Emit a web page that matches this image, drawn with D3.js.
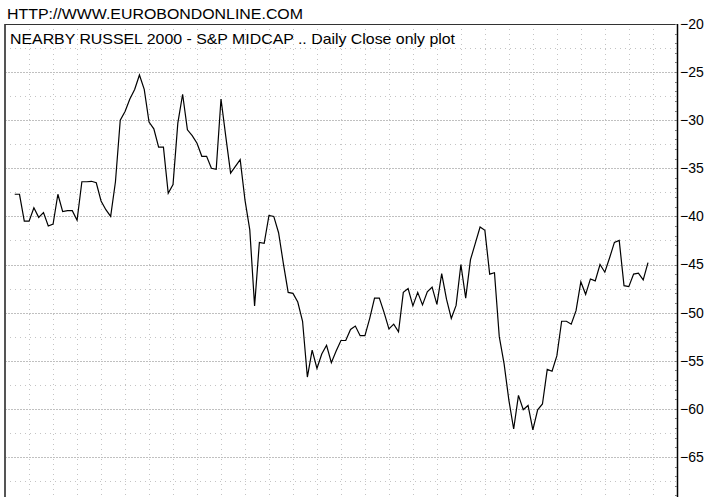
<!DOCTYPE html>
<html>
<head>
<meta charset="utf-8">
<script src="https://cdn.jsdelivr.net/npm/d3@7"></script>
<style>
  body { margin: 0; background: #fff; }
  svg { display: block; font-family: "Liberation Sans", Arial, sans-serif; }
</style>
</head>
<body>
<svg width="709" height="497"></svg>
<script>
// daily close, spread value
var closes = [
  -37.7, -37.7, -40.5, -40.5, -39.1, -40.1, -39.6, -41.0, -40.8, -37.7,
  -39.5, -39.4, -39.4, -40.4, -36.4, -36.4, -36.35, -36.5, -38.4, -39.3,
  -40.0, -36.4, -30.0, -29.1, -27.8, -26.8, -25.3, -26.8, -30.2, -30.9,
  -32.8, -32.8, -37.6, -36.7, -30.3, -27.3, -31.0, -31.6, -32.4, -33.75,
  -33.75, -35.0, -35.1, -27.8, -31.7, -35.5, -34.8, -34.1, -38.3, -41.4,
  -49.3, -42.7, -42.8, -39.9, -40.0, -41.7, -44.9, -47.9, -48.0, -48.9,
  -50.9, -56.7, -53.9, -55.8, -54.3, -53.4, -55.2, -54.0, -52.9, -52.9,
  -51.75, -51.4, -52.4, -52.4, -50.6, -48.5, -48.5, -50.0, -51.7, -51.2,
  -52.0, -47.9, -47.5, -49.3, -47.9, -49.2, -47.85, -47.35, -49.15, -45.95,
  -48.6, -50.6, -49.25, -45.0, -48.5, -44.5, -42.8, -41.1, -41.45, -46.0,
  -45.85, -52.5, -55.3, -59.1, -62.1, -58.6, -60.1, -59.65, -62.2, -60.1,
  -59.5, -55.9, -56.1, -54.5, -50.9, -50.9, -51.2, -49.8, -46.8, -48.1,
  -46.5, -46.7, -45.0, -45.8, -44.3, -42.7, -42.5, -47.2, -47.3, -46.0,
  -45.9, -46.6, -44.8
];
var yTicks = [-20, -25, -30, -35, -40, -45, -50, -55, -60, -65];
var yMinor = [-22.5, -27.5, -32.5, -37.5, -42.5, -47.5, -52.5, -57.5, -62.5, -67.5];
var siteTitle = "HTTP://WWW.EUROBONDONLINE.COM";
var chartTitle = "NEARBY RUSSEL 2000 - S&P MIDCAP .. Daily Close only plot";

var svg = d3.select("svg");
var pLeft = 5, pRight = 677, pTop = 24, pBottom = 497;

var x = d3.scaleLinear().domain([0, closes.length - 1]).range([14.7, 648]);
var y = d3.scaleLinear().domain([-20, -70]).range([pTop, pTop + 50 * 9.62]);

function py(d) { return Math.round(y(d)) + 0.5; }

// vertical grid every 24px
var vx = d3.range(1, 28).map(function(k) { return pLeft + 24 * k + 0.5; });
svg.append("g").selectAll("line").data(vx).enter().append("line")
  .attr("x1", function(d) { return d; }).attr("x2", function(d) { return d; })
  .attr("y1", pTop).attr("y2", pBottom)
  .attr("stroke", "#c4c4c4").attr("stroke-width", 1)
  .attr("stroke-dasharray", "1,4");

svg.append("g").selectAll("line").data(yMinor).enter().append("line")
  .attr("x1", pLeft).attr("x2", pRight)
  .attr("y1", py).attr("y2", py)
  .attr("stroke", "#c4c4c4").attr("stroke-width", 1)
  .attr("stroke-dasharray", "1,4");

svg.append("g").selectAll("line").data(yTicks.slice(1)).enter().append("line")
  .attr("x1", pLeft).attr("x2", pRight)
  .attr("y1", py).attr("y2", py)
  .attr("stroke", "#c0c0c0").attr("stroke-width", 1)
  .attr("stroke-dasharray", "2,1");

// frame
svg.append("line").attr("x1", pLeft).attr("x2", pLeft).attr("y1", pTop).attr("y2", pBottom)
  .attr("stroke", "#555").attr("stroke-width", 2);
svg.append("line").attr("x1", pLeft).attr("x2", pRight).attr("y1", pTop + 0.5).attr("y2", pTop + 0.5)
  .attr("stroke", "#333").attr("stroke-width", 1);

// right axis
var axis = d3.axisRight(y).tickValues(yTicks).tickSize(0).tickPadding(3)
  .tickFormat(d3.format("d"));
var ag = svg.append("g").attr("transform", "translate(" + pRight + ",0)").call(axis);
ag.select(".domain").remove();
ag.selectAll("text").attr("font-size", 14).attr("fill", "#000")
  .attr("font-family", "Liberation Sans, Arial, sans-serif");
svg.append("line").attr("x1", pRight + 0.5).attr("x2", pRight + 0.5).attr("y1", pTop).attr("y2", pBottom)
  .attr("stroke", "#000").attr("stroke-width", 1.5);
// small inner ticks
svg.append("g").selectAll("line").data(d3.range(-20, -71, -1)).enter().append("line")
  .attr("x1", pRight - 2).attr("x2", pRight)
  .attr("y1", py).attr("y2", py)
  .attr("stroke", "#777").attr("stroke-width", 1);

// price line
var line = d3.line().x(function(d, i) { return x(i); }).y(function(d) { return y(d); });
svg.append("path").datum(closes).attr("d", line)
  .attr("fill", "none").attr("stroke", "#000").attr("stroke-width", 1.2)
  .attr("stroke-linejoin", "miter");

// titles
svg.append("text").attr("x", 7).attr("y", 19).attr("font-size", 15)
  .attr("textLength", 296).attr("lengthAdjust", "spacingAndGlyphs").text(siteTitle);
svg.append("text").attr("x", 10).attr("y", 44).attr("font-size", 15)
  .attr("textLength", 445).attr("lengthAdjust", "spacingAndGlyphs").text(chartTitle);
</script>
</body>
</html>
